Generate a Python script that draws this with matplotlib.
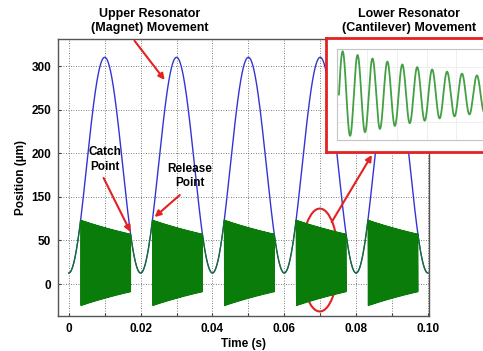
import numpy as np
import matplotlib.pyplot as plt
from matplotlib.patches import Ellipse

plt.rcParams['font.family'] = ['Liberation Sans', 'DejaVu Sans']
plt.rcParams['font.weight'] = 'bold'

# ── values (y in axis units, gridlines every 50) ───────────────────────────
period = 0.02                     # s, magnet cycle
magnet_min = 12.6                 # lowest point of magnet curve
magnet_max = 260.0                # highest point of magnet curve
release_times = [0.0033, 0.0233, 0.0433, 0.0633, 0.0833]
catch_times = [0.0172, 0.0372, 0.0572, 0.0772, 0.0972]
cant_rest = 24.0                  # centre of free cantilever vibration
cant_amp_ratio = 33.0 / 49.0      # envelope at catch / envelope at release
cant_freq = 4000.0                # Hz, free vibration (drawn as a solid band)

ytick_pos = [0, 50, 100, 150, 200, 250]
ytick_lab = ['0', '50', '150', '200', '250', '300']
xtick_pos = [0, 0.01, 0.02, 0.03, 0.04, 0.05, 0.06, 0.07, 0.08, 0.09, 0.10]
xtick_lab = ['0', '', '0.02', '', '0.04', '', '0.06', '', '0.08', '', '0.10']

# inset: zoomed free vibration (x in cycles, y normalised)
inset_start = 0.13
inset_amp0 = 0.95
inset_decay_per_cycle = 0.913
inset_cycles = 12

BLUE = '#3434d4'
GREEN = '#0a7c0a'
RED = '#e32222'

# ── signals ────────────────────────────────────────────────────────────────
t = np.arange(0, 0.1 + 1e-6, 1e-5)
magnet = magnet_min + (magnet_max - magnet_min) * (1 - np.cos(2 * np.pi * t / period)) / 2
cant = magnet.copy()
for tr, tc in zip(release_times, catch_times):
    m = (t >= tr) & (t <= tc)
    y0 = magnet_min + (magnet_max - magnet_min) * (1 - np.cos(2 * np.pi * tr / period)) / 2
    tau = (tc - tr) / np.log(1 / cant_amp_ratio)
    env = (y0 - cant_rest) * np.exp(-(t[m] - tr) / tau)
    cant[m] = cant_rest + env * np.cos(2 * np.pi * cant_freq * (t[m] - tr))

# ── figure ─────────────────────────────────────────────────────────────────
W, H = 483, 351
fig = plt.figure(figsize=(W / 100, H / 100), dpi=100)
ax = fig.add_axes([58 / W, 1 - 316 / H, (429 - 58) / W, (316 - 39) / H])

ax.plot(t, magnet, color=BLUE, lw=1.0)
ax.plot(t, cant, color=GREEN, lw=0.8)

ax.set_xlim(-0.003, 0.1003)
ax.set_ylim(-36.7, 281)
ax.set_xticks(xtick_pos)
ax.set_xticklabels(xtick_lab)
ax.set_yticks(ytick_pos)
ax.set_yticklabels(ytick_lab)
ax.tick_params(direction='in', length=2, labelsize=8.5, pad=5, color='#444444')
ax.grid(True, color='#555555', linestyle=(0, (1, 2)), lw=0.6)
for s in ax.spines.values():
    s.set_color('#555555')
    s.set_linewidth(1.0)
ax.set_xlabel('Time (s)', fontsize=8.5, fontweight='bold', labelpad=2)
ax.set_ylabel('Position (µm)', fontsize=8.5, fontweight='bold', labelpad=3)

# annotations
arrow = dict(arrowstyle='-|>', color=RED, lw=1.5, mutation_scale=9, shrinkA=0, shrinkB=0)
ax.annotate('', xy=(0.0267, 234), xytext=(0.0183, 279), arrowprops=arrow, annotation_clip=False)
ax.annotate('', xy=(0.0172, 59.6), xytext=(0.0097, 121.6), arrowprops=arrow)
ax.annotate('', xy=(0.0239, 76.8), xytext=(0.0309, 102), arrowprops=arrow)
ax.annotate('', xy=(0.0844, 148), xytext=(0.0732, 71), arrowprops=arrow)
ax.text(0.0100, 143, 'Catch\nPoint', ha='center', va='center', fontsize=8.5,
        fontweight='bold', linespacing=1.3)
ax.text(0.0337, 124, 'Release\nPoint', ha='center', va='center', fontsize=8.5,
        fontweight='bold', linespacing=1.3)
ax.add_patch(Ellipse((0.0699, 27.5), 0.0103, 118, fill=False, ec=RED, lw=1.5))

fig.text(150 / W, 1 - 21 / H, 'Upper Resonator\n(Magnet) Movement', ha='center', va='center',
         fontsize=9, fontweight='bold', linespacing=1.3)
fig.text(409 / W, 1 - 21 / H, 'Lower Resonator\n(Cantilever) Movement', ha='center', va='center',
         fontsize=9, fontweight='bold', linespacing=1.3)

# inset frame (runs past the right edge of the picture)
box = fig.add_axes([326 / W, 1 - 152 / H, 0.6, (152 - 38) / H])
box.set_xticks([]); box.set_yticks([])
for s in box.spines.values():
    s.set_color(RED)
    s.set_linewidth(2.0)

# inset curve
ins = fig.add_axes([337 / W, 1 - 140 / H, 179 / W, (140 - 49) / H])
xi = np.linspace(inset_start, inset_cycles, 2000)
yi = inset_amp0 * inset_decay_per_cycle ** (xi - inset_start - 0.25) * \
    np.sin(2 * np.pi * (xi - inset_start))
ins.plot(xi, yi, color='#44a044', lw=1.3)
ins.set_xlim(0, inset_cycles)
ins.set_ylim(-1, 1)
ins.set_xticks(np.arange(0, inset_cycles + 1, 2))
ins.set_yticks([-0.6, -0.2, 0.2, 0.6])
ins.tick_params(length=0, labelbottom=False, labelleft=False)
ins.grid(True, color='#ececec', lw=0.6)
for s in ins.spines.values():
    s.set_color('#c4c4c4')
    s.set_linewidth(0.8)

fig.savefig('out.png', dpi=100)
